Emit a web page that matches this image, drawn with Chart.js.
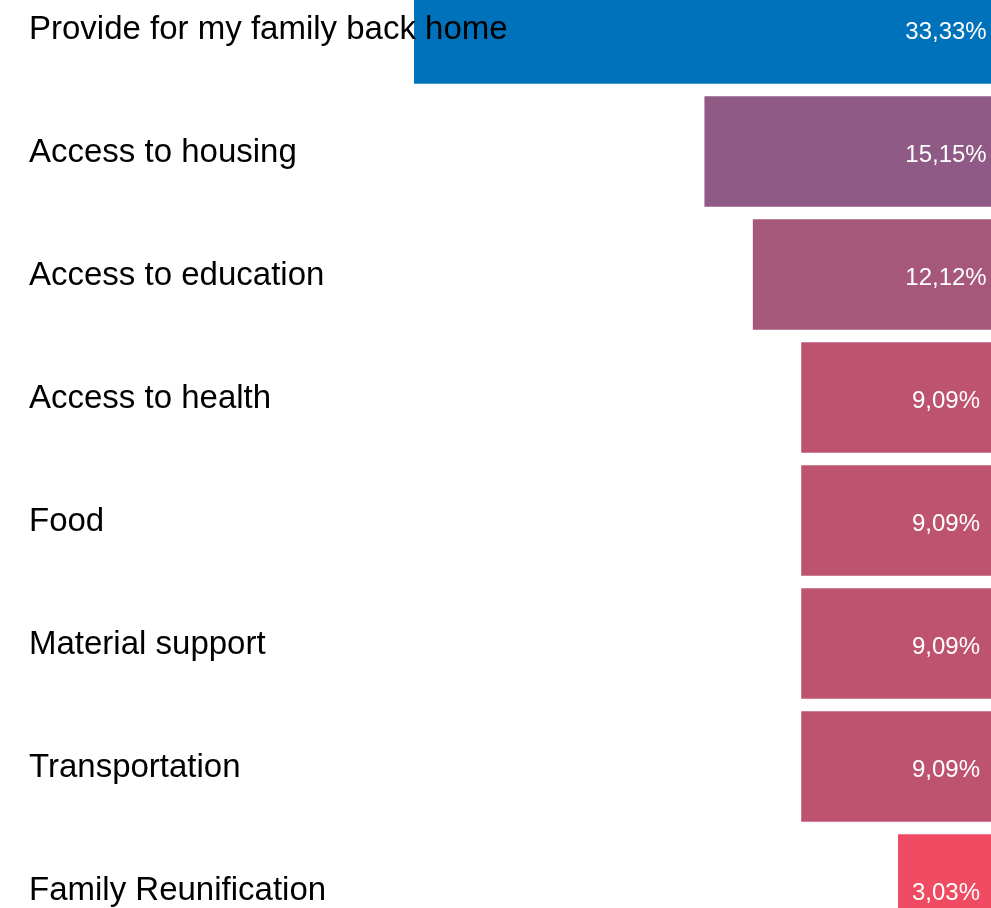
<!DOCTYPE html>
<html>
<head>
<meta charset="utf-8">
<title>Reasons</title>
<script src="https://cdn.jsdelivr.net/npm/chart.js@4/dist/chart.umd.min.js"></script>
<style>
    html, body { margin: 0; padding: 0; background: #fff; overflow: hidden; }
    #wrap { position: absolute; left: 0; top: -33px; width: 991px; height: 984px; }
</style>
</head>
<body>
<div id="wrap"><canvas id="reasonsChart"></canvas></div>
<script>
// 类别与数值
const categories = [
    'Provide for my family back home',
    'Access to housing',
    'Access to education',
    'Access to health',
    'Food',
    'Material support',
    'Transportation',
    'Family Reunification'
];
const shares = [33.33, 15.15, 12.12, 9.09, 9.09, 9.09, 9.09, 3.03];
const barColors = ['#0072BC', '#8F5A85', '#A6587A', '#BE5370', '#BE5370', '#BE5370', '#BE5370', '#EF4B62'];

const xMin = -2.79;
const xMax = 59.25;

// 标签插件：类别名称与百分比
const labelPlugin = {
    id: 'barLabels',
    afterDatasetsDraw(chart) {
        const ctx = chart.ctx;
        const meta = chart.getDatasetMeta(0);
        const yScale = chart.scales.y;
        ctx.save();
        ctx.textBaseline = 'alphabetic';
        chart.data.labels.forEach(function(label, i) {
            const y = yScale.getPixelForValue(i);
            ctx.fillStyle = '#000';
            ctx.font = '33px "Liberation Sans", Arial, sans-serif';
            ctx.textAlign = 'left';
            ctx.fillText(label, 29, y + 10);

            const bar = meta.data[i];
            const v = chart.data.datasets[0].data[i];
            ctx.fillStyle = '#fff';
            ctx.font = '24px "Liberation Sans", Arial, sans-serif';
            ctx.textAlign = 'center';
            ctx.fillText(v.toFixed(2).replace('.', ',') + '%', bar.base - 45, y + 10);
        });
        ctx.restore();
    }
};

const ctx = document.getElementById('reasonsChart').getContext('2d');
const reasonsChart = new Chart(ctx, {
    type: 'bar',
    data: {
        labels: categories,
        datasets: [{
            data: shares,
            backgroundColor: barColors,
            borderWidth: 0,
            base: xMin,
            barPercentage: 0.9,
            categoryPercentage: 1
        }]
    },
    options: {
        indexAxis: 'y',
        responsive: true,
        maintainAspectRatio: false,
        animation: false,
        layout: { padding: 0 },
        scales: {
            x: {
                display: false,
                reverse: true,
                min: xMin,
                max: xMax
            },
            y: {
                display: false
            }
        },
        plugins: {
            legend: { display: false },
            tooltip: { enabled: false }
        }
    },
    plugins: [labelPlugin]
});
</script>
</body>
</html>
